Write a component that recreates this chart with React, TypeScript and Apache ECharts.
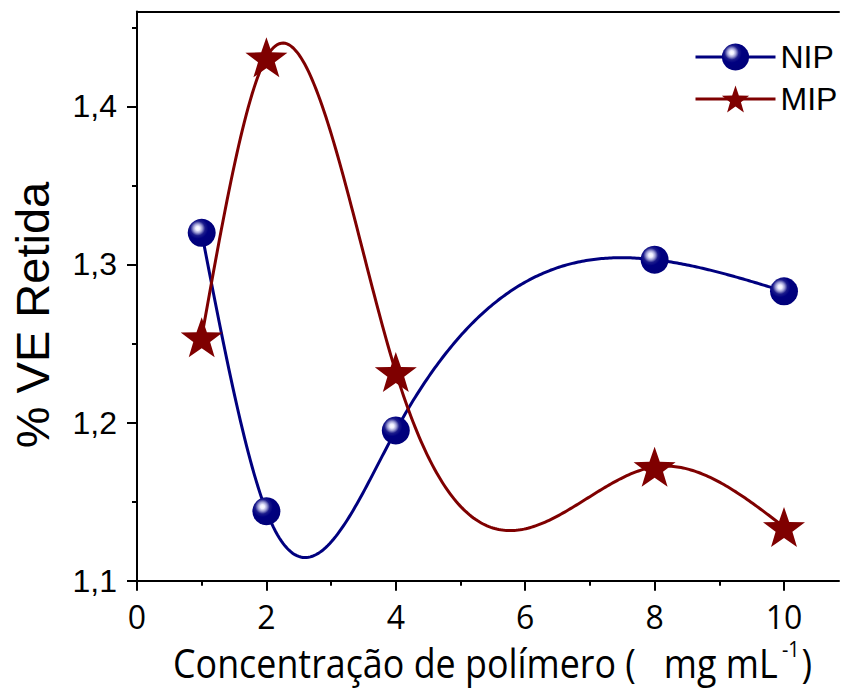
import React, { useEffect, useRef } from 'react';
import * as echarts from 'echarts';

// ---- data ----
const concentrations = [1, 2, 4, 8, 10];
const nipValues = [1.32, 1.144, 1.195, 1.303, 1.283];
const mipValues = [1.254, 1.431, 1.232, 1.172, 1.134];
const seriesNames = ['NIP', 'MIP'];
const xMajorTicks = [0, 2, 4, 6, 8, 10];
const xMinorTicks = [1, 3, 5, 7, 9];
const yMajorTicks = [1.1, 1.2, 1.3, 1.4];
const yMinorTicks = [1.15, 1.25, 1.35, 1.45];
const xTitle = 'Concentração de polímero (   mg mL';
const xTitleSup = '-1';
const xTitleEnd = ')';
const yTitle = '% VE Retida';

const NAVY = '#00007f';
const MAROON = '#7f0000';

// natural cubic spline through the data points (drawing style of the curves)
function makeSpline(xs: number[], ys: number[]) {
  const n = xs.length;
  const h: number[] = [];
  for (let i = 0; i < n - 1; i++) h.push(xs[i + 1] - xs[i]);
  const a = new Array(n).fill(0);
  const b = new Array(n).fill(0);
  const c = new Array(n).fill(0);
  const d = new Array(n).fill(0);
  b[0] = 1;
  b[n - 1] = 1;
  for (let i = 1; i < n - 1; i++) {
    a[i] = h[i - 1];
    b[i] = 2 * (h[i - 1] + h[i]);
    c[i] = h[i];
    d[i] = 6 * ((ys[i + 1] - ys[i]) / h[i] - (ys[i] - ys[i - 1]) / h[i - 1]);
  }
  for (let i = 1; i < n; i++) {
    const w = a[i] / b[i - 1];
    b[i] -= w * c[i - 1];
    d[i] -= w * d[i - 1];
  }
  const M = new Array(n).fill(0);
  M[n - 1] = d[n - 1] / b[n - 1];
  for (let i = n - 2; i >= 0; i--) M[i] = (d[i] - c[i] * M[i + 1]) / b[i];
  return (x: number) => {
    let i = 0;
    while (i < n - 2 && x > xs[i + 1]) i++;
    const hh = h[i];
    const A = (xs[i + 1] - x) / hh;
    const B = (x - xs[i]) / hh;
    return A * ys[i] + B * ys[i + 1] + ((A * A * A - A) * M[i] + (B * B * B - B) * M[i + 1]) * hh * hh / 6;
  };
}

function starPath() {
  const R = 50;
  const r = 20;
  const pts: string[] = [];
  for (let k = 0; k < 10; k++) {
    const ang = (-90 + k * 36) * Math.PI / 180;
    const rad = k % 2 === 0 ? R : r;
    pts.push((50 + rad * Math.cos(ang)).toFixed(2) + ' ' + (50 + rad * Math.sin(ang)).toFixed(2));
  }
  return 'path://M' + pts.join(' L') + ' Z';
}

function curveSeries(name: string, ys: number[], color: string) {
  const f = makeSpline(concentrations, ys);
  const x0 = concentrations[0];
  const x1 = concentrations[concentrations.length - 1];
  return {
    type: 'custom',
    name: name + '-curve',
    clip: true,
    z: 2,
    silent: true,
    data: [[concentrations[0], ys[0]]],
    renderItem: (_params: any, api: any) => {
      const pts: number[][] = [];
      const steps = 300;
      for (let k = 0; k <= steps; k++) {
        const x = x0 + (x1 - x0) * k / steps;
        pts.push(api.coord([x, f(x)]));
      }
      return {
        type: 'polyline',
        shape: { points: pts },
        style: { stroke: color, lineWidth: 3, fill: null },
      };
    },
  };
}

export default function App() {
  const ref = useRef<HTMLDivElement>(null);
  useEffect(() => {
    document.body.style.margin = '0';
    if (!ref.current) return;
    const chart = echarts.init(ref.current, undefined, { renderer: 'svg' });

    const ctx = document.createElement('canvas').getContext('2d')!;
    ctx.font = "40px 'Open Sans'";
    const mainW = ctx.measureText(xTitle).width || 700;
    const sx = 605 / mainW;
    ctx.font = "22px 'Open Sans'";
    const supW = ctx.measureText(xTitleSup).width || 20;

    const sphere = new echarts.graphic.RadialGradient(0.36, 0.34, 0.62, [
      { offset: 0, color: '#ffffff' },
      { offset: 0.12, color: '#eeeeff' },
      { offset: 0.26, color: '#9c9cd2' },
      { offset: 0.42, color: '#1c1c8c' },
      { offset: 0.6, color: '#000080' },
      { offset: 1, color: '#00007a' },
    ]);

    const axisLine = { show: true, lineStyle: { color: '#000', width: 2 } };
    const xMax = 10.85;
    const yMin = 1.1;
    const yMax = 1.46;

    chart.setOption({
      animation: false,
      backgroundColor: '#fff',
      grid: { left: 137, right: 2, top: 11.5, bottom: 107.3, outerBoundsMode: 'none' },
      xAxis: [
        {
          type: 'value', min: 0, max: xMax, interval: 2, position: 'bottom',
          axisLine,
          splitLine: { show: false },
          axisTick: { show: true, customValues: xMajorTicks, length: 10, lineStyle: { color: '#000', width: 2 } },
          axisLabel: {
            customValues: xMajorTicks, margin: 20, color: '#000',
            fontFamily: 'Open Sans', fontSize: 32,
          },
        },
        {
          type: 'value', min: 0, max: xMax, interval: 1, position: 'bottom',
          axisLine: { show: false },
          splitLine: { show: false },
          axisTick: { show: true, customValues: xMinorTicks, length: 5, lineStyle: { color: '#000', width: 2 } },
          axisLabel: { show: false },
        },
        {
          type: 'value', min: 0, max: xMax, interval: 1, position: 'top',
          axisLine,
          splitLine: { show: false },
          axisTick: { show: false },
          axisLabel: { show: false },
        },
      ],
      yAxis: [
        {
          type: 'value', min: yMin, max: yMax, interval: 0.1, position: 'left',
          axisLine,
          splitLine: { show: false },
          axisTick: { show: true, customValues: yMajorTicks, length: 10, lineStyle: { color: '#000', width: 2 } },
          axisLabel: {
            customValues: yMajorTicks, margin: 20, color: '#000',
            fontFamily: 'Liberation Sans, Arial, sans-serif', fontSize: 32,
            formatter: (v: number) => v.toFixed(1).replace('.', ','),
          },
        },
        {
          type: 'value', min: yMin, max: yMax, interval: 0.05, position: 'left',
          axisLine: { show: false },
          splitLine: { show: false },
          axisTick: { show: true, customValues: yMinorTicks, length: 5, lineStyle: { color: '#000', width: 2 } },
          axisLabel: { show: false },
        },
      ],
      legend: {
        orient: 'vertical', left: 689, top: 36,
        itemWidth: 80, itemHeight: 34, itemGap: 10,
        textStyle: { fontFamily: 'Liberation Sans, Arial, sans-serif', fontSize: 32, color: '#000' },
        data: [
          { name: seriesNames[0], lineStyle: { color: NAVY, width: 3, opacity: 1 } },
          { name: seriesNames[1], lineStyle: { color: MAROON, width: 3, opacity: 1 } },
        ],
      },
      series: [
        curveSeries(seriesNames[0], nipValues, NAVY),
        curveSeries(seriesNames[1], mipValues, MAROON),
        {
          type: 'line', name: seriesNames[0], z: 3,
          data: concentrations.map((x, i) => [x, nipValues[i]]),
          symbol: 'circle', symbolSize: 28, showSymbol: true,
          lineStyle: { width: 0, opacity: 0 },
          itemStyle: { color: sphere, borderWidth: 0 },
          emphasis: { disabled: true },
        },
        {
          type: 'line', name: seriesNames[1], z: 3,
          data: concentrations.map((x, i) => [x, mipValues[i]]),
          symbol: starPath(), symbolSize: [42, 40], showSymbol: true,
          lineStyle: { width: 0, opacity: 0 },
          itemStyle: { color: MAROON, borderWidth: 0 },
          emphasis: { disabled: true },
        },
      ],
      graphic: [
        {
          type: 'text', x: 32, y: 315, rotation: Math.PI / 2,
          style: {
            text: yTitle, fill: '#000', fontFamily: 'Liberation Sans, Arial, sans-serif', fontSize: 47,
            align: 'center', verticalAlign: 'middle',
          },
        },
        {
          type: 'text', x: 173, y: 662, scaleX: sx,
          style: {
            text: xTitle, fill: '#000', fontFamily: 'Open Sans', fontSize: 40, lineHeight: 40,
            align: 'left', verticalAlign: 'middle',
          },
        },
        {
          type: 'text', x: 173 + 605 + 4, y: 649, scaleX: sx,
          style: {
            text: xTitleSup, fill: '#000', fontFamily: 'Open Sans', fontSize: 22, lineHeight: 22,
            align: 'left', verticalAlign: 'middle',
          },
        },
        {
          type: 'text', x: 173 + 605 + 4 + supW * sx + 2, y: 662, scaleX: sx,
          style: {
            text: xTitleEnd, fill: '#000', fontFamily: 'Open Sans', fontSize: 40, lineHeight: 40,
            align: 'left', verticalAlign: 'middle',
          },
        },
      ],
    });
    return () => chart.dispose();
  }, []);
  return <div ref={ref} style={{ width: 841, height: 688 }} />;
}
